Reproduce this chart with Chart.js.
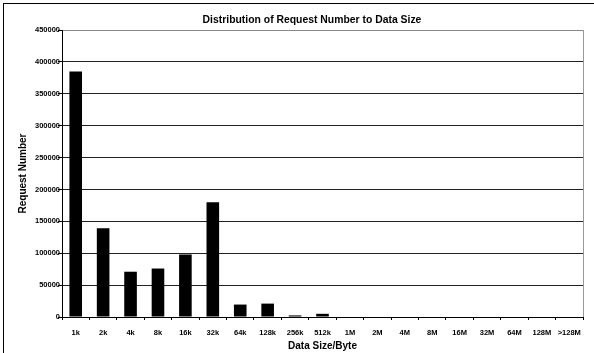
<!DOCTYPE html>
<html>
<head>
<meta charset="utf-8">
<script src="https://cdn.jsdelivr.net/npm/chart.js@4"></script>
<style>
html,body{margin:0;padding:0;background:#fff;overflow:hidden;}
#wrap{position:relative;width:594px;height:353px;}
#frame{position:absolute;left:3px;top:3px;width:600px;height:360px;border-left:1px solid #000;border-top:1px solid #000;box-sizing:border-box;pointer-events:none;}
canvas{position:absolute;left:0;top:0;}
</style>
</head>
<body>
<div id="wrap">
<canvas id="c" width="594" height="353"></canvas>
<div id="frame"></div>
</div>
<script>
const categories = ["1k","2k","4k","8k","16k","32k","64k","128k","256k","512k","1M","2M","4M","8M","16M","32M","64M","128M",">128M"];
const requestNumbers = [385000,139000,71000,76000,98000,180000,19500,21000,2500,5000,800,0,0,0,0,0,0,0,0];
const yTickMax = 450000;
const yTickStep = 50000;
const titleText = "Distribution of Request Number to Data Size";
const yTitle = "Request Number";
const xTitle = "Data Size/Byte";

const FONT = "'Liberation Sans', Arial, sans-serif";

const extras = {
  id: 'extras',
  afterDraw(chart) {
    const {ctx, chartArea} = chart;
    ctx.save();
    ctx.strokeStyle = '#999';
    ctx.lineWidth = 1;
    ctx.beginPath();
    ctx.moveTo(Math.round(chartArea.right) + 0.5, chartArea.top);
    ctx.lineTo(Math.round(chartArea.right) + 0.5, chartArea.bottom);
    ctx.stroke();
    ctx.fillStyle = '#000';
    ctx.font = "bold 10.4px " + FONT;
    ctx.textAlign = 'center';
    ctx.textBaseline = 'middle';
    ctx.fillText(titleText, 312, 20);
    ctx.restore();
  }
};

new Chart(document.getElementById('c'), {
  type: 'bar',
  data: {
    labels: categories,
    datasets: [{
      data: requestNumbers,
      backgroundColor: '#000',
      borderWidth: 0,
      categoryPercentage: 1.0,
      barPercentage: 0.46
    }]
  },
  options: {
    responsive: false,
    animation: false,
    devicePixelRatio: 1,
    layout: { padding: { top: 30, right: 11, bottom: 0, left: 0 } },
    plugins: { legend: { display: false }, tooltip: { enabled: false }, title: { display: false } },
    scales: {
      x: {
        offset: true,
        border: { display: true, color: '#000', width: 1 },
        grid: { display: true, drawOnChartArea: false, drawTicks: true, tickLength: 3, color: '#000', offset: true },
        ticks: { color: '#000', font: { family: FONT, size: 7.5, weight: 'bold' }, padding: 8, maxRotation: 0, autoSkip: false },
        title: { display: true, text: xTitle, color: '#000', font: { family: FONT, size: 10, weight: 'bold' }, padding: { top: 0, bottom: 1 } },
        afterFit(scale) { scale.height = 36; }
      },
      y: {
        min: 0,
        max: yTickMax,
        border: { display: true, color: '#000', width: 1 },
        grid: {
          color: (c) => (c.tick && c.tick.value === yTickMax) ? '#888' : '#222',
          tickLength: 4,
          tickColor: '#000'
        },
        ticks: { stepSize: yTickStep, color: '#000', font: { family: FONT, size: 7.5, weight: 'bold' }, padding: -2, callback: (v) => String(v) },
        title: { display: true, text: yTitle, color: '#000', font: { family: FONT, size: 10, weight: 'bold' }, padding: { top: 17, bottom: 0 } },
        afterFit(scale) { scale.width = 62; }
      }
    }
  },
  plugins: [extras]
});
</script>
</body>
</html>
